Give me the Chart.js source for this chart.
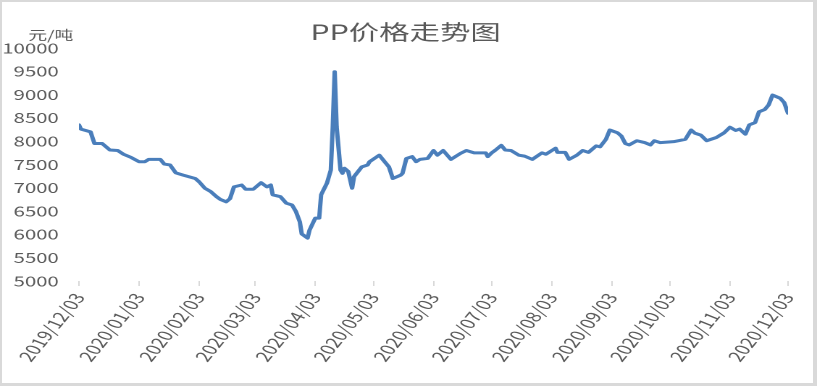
<!DOCTYPE html>
<html>
<head>
<meta charset="utf-8">
<title>PP价格走势图</title>
<script src="https://cdn.jsdelivr.net/npm/chart.js@4/dist/chart.umd.min.js"></script>
<style>
  html, body { margin: 0; padding: 0; background: #fff; }
  #wrap { position: relative; width: 817px; height: 386px; overflow: hidden; background: #fff; }
  #c { position: absolute; left: 0; top: 0; transform-origin: 0 0; }
  #frame {
    position: absolute; left: 0; top: 0; width: 817px; height: 386px;
    box-sizing: border-box; pointer-events: none;
    border-style: solid; border-color: #d9d9d9;
    border-width: 2px 4px 3px 2px;
  }
</style>
</head>
<body>
<div id="wrap">
  <canvas id="c" width="564" height="386"></canvas>
  <div id="frame"></div>
</div>
<script>
// 数据：日期与价格（元/吨）
const dates = [
  '2019/12/03', '2019/12/04', '2019/12/09', '2019/12/11', '2019/12/15', '2019/12/19',
  '2019/12/23', '2019/12/26', '2019/12/30', '2020/01/03', '2020/01/06', '2020/01/08',
  '2020/01/14', '2020/01/16', '2020/01/19', '2020/01/22', '2020/01/26', '2020/02/01',
  '2020/02/03', '2020/02/06', '2020/02/09', '2020/02/12', '2020/02/14', '2020/02/17',
  '2020/02/19', '2020/02/21', '2020/02/25', '2020/02/27', '2020/03/02', '2020/03/06',
  '2020/03/09', '2020/03/11', '2020/03/12', '2020/03/16', '2020/03/19', '2020/03/22',
  '2020/03/24', '2020/03/26', '2020/03/27', '2020/03/30', '2020/03/31', '2020/04/03',
  '2020/04/05', '2020/04/06', '2020/04/09', '2020/04/11', '2020/04/12', '2020/04/13',
  '2020/04/14', '2020/04/16', '2020/04/17', '2020/04/18', '2020/04/20', '2020/04/22',
  '2020/04/23', '2020/04/27', '2020/04/30', '2020/05/01', '2020/05/06', '2020/05/08',
  '2020/05/11', '2020/05/13', '2020/05/17', '2020/05/18', '2020/05/20', '2020/05/23',
  '2020/05/25', '2020/05/27', '2020/05/31', '2020/06/03', '2020/06/05', '2020/06/08',
  '2020/06/12', '2020/06/17', '2020/06/20', '2020/06/24', '2020/06/30', '2020/07/01',
  '2020/07/03', '2020/07/05', '2020/07/08', '2020/07/10', '2020/07/13', '2020/07/17',
  '2020/07/20', '2020/07/24', '2020/07/29', '2020/07/31', '2020/08/05', '2020/08/06',
  '2020/08/10', '2020/08/12', '2020/08/16', '2020/08/19', '2020/08/22', '2020/08/26',
  '2020/08/28', '2020/08/31', '2020/09/02', '2020/09/06', '2020/09/08', '2020/09/10',
  '2020/09/12', '2020/09/16', '2020/09/20', '2020/09/23', '2020/09/25', '2020/09/28',
  '2020/10/05', '2020/10/11', '2020/10/14', '2020/10/16', '2020/10/19', '2020/10/22',
  '2020/10/27', '2020/10/31', '2020/11/03', '2020/11/06', '2020/11/08', '2020/11/11',
  '2020/11/13', '2020/11/16', '2020/11/18', '2020/11/21', '2020/11/23', '2020/11/25',
  '2020/11/29', '2020/12/01', '2020/12/03'
];

const prices = [
  8350, 8260, 8200, 7950, 7950, 7810,
  7800, 7720, 7650, 7560, 7560, 7610,
  7610, 7510, 7490, 7320, 7270, 7200,
  7130, 6990, 6920, 6810, 6750, 6700,
  6770, 7020, 7060, 6970, 6970, 7110,
  7020, 7060, 6850, 6810, 6670, 6630,
  6490, 6270, 6010, 5920, 6090, 6350,
  6350, 6850, 7100, 7380, 8310, 9490,
  8310, 7380, 7310, 7420, 7350, 6990,
  7240, 7450, 7490, 7560, 7700, 7600,
  7450, 7200, 7270, 7310, 7630, 7670,
  7560, 7610, 7630, 7800, 7700, 7800,
  7610, 7740, 7800, 7750, 7750, 7670,
  7750, 7810, 7910, 7810, 7800, 7700,
  7680, 7610, 7750, 7720, 7850, 7760,
  7760, 7610, 7700, 7800, 7760, 7900,
  7880, 8040, 8240, 8180, 8110, 7950,
  7920, 8010, 7970, 7920, 8010, 7970,
  7990, 8040, 8240, 8170, 8130, 8010,
  8080, 8180, 8300, 8230, 8260, 8150,
  8350, 8400, 8630, 8680, 8780, 8990,
  8920, 8830, 8600
];

// 横轴刻度标签（每月3日）
const tickLabels = [
  '2019/12/03', '2020/01/03', '2020/02/03', '2020/03/03', '2020/04/03', '2020/05/03',
  '2020/06/03', '2020/07/03', '2020/08/03', '2020/09/03', '2020/10/03', '2020/11/03',
  '2020/12/03'
];

// 纵轴范围
const yMin = 5000;
const yMax = 10000;
const yStep = 500;

const chartTitle = 'PP价格走势图';
const unitText = '元/吨';

// 原图整体被横向拉伸，这里先按窄画布绘制再横向放大
const OUT_W = 817;
const BASE_W = 564;
const STRETCH = OUT_W / BASE_W;

const FONT = '"Noto Sans CJK SC", "Noto Sans", sans-serif';
const TEXT_COLOR = '#595959';

function dayIndex(s) {
  const [y, m, d] = s.split('/').map(Number);
  const [y0, m0, d0] = dates[0].split('/').map(Number);
  return Math.round((Date.UTC(y, m - 1, d) - Date.UTC(y0, m0 - 1, d0)) / 86400000);
}

const points = dates.map((d, i) => ({ x: dayIndex(d), y: prices[i] }));
const tickDays = tickLabels.map(dayIndex);

// 标题与左上角单位文字
const headerText = {
  id: 'headerText',
  afterDraw(chart) {
    const ctx = chart.ctx;
    ctx.save();
    ctx.fillStyle = TEXT_COLOR;
    ctx.textBaseline = 'middle';

    ctx.font = '21px ' + FONT;
    ctx.textAlign = 'center';
    ctx.fillText(chartTitle, 280, 32);

    ctx.font = '13px ' + FONT;
    ctx.textAlign = 'left';
    ctx.fillText(unitText, 19.5, 35);
    ctx.restore();
  }
};

const canvas = document.getElementById('c');
canvas.style.transform = 'scaleX(' + STRETCH + ')';

new Chart(canvas, {
  type: 'line',
  data: {
    datasets: [{
      label: 'PP价格',
      data: points,
      borderColor: '#4a7ebb',
      borderWidth: 3,
      borderJoinStyle: 'round',
      borderCapStyle: 'round',
      pointRadius: 0,
      tension: 0,
      fill: false
    }]
  },
  options: {
    responsive: false,
    devicePixelRatio: 2,
    animation: false,
    layout: { padding: { left: 0, right: 20, top: 48, bottom: 0 } },
    plugins: {
      legend: { display: false },
      tooltip: { enabled: false },
      title: { display: false }
    },
    scales: {
      x: {
        type: 'linear',
        min: 0,
        max: tickDays[tickDays.length - 1],
        afterBuildTicks(scale) {
          scale.ticks = tickDays.map(v => ({ value: v }));
        },
        afterFit(scale) {
          scale.height = 105;
        },
        grid: {
          display: true,
          drawOnChartArea: false,
          drawTicks: true,
          tickLength: 5,
          color: '#d9d9d9'
        },
        border: { display: false },
        ticks: {
          autoSkip: false,
          minRotation: 60,
          maxRotation: 60,
          padding: 4,
          color: TEXT_COLOR,
          font: { family: FONT, size: 14.5 },
          callback: (value, index) => tickLabels[index]
        }
      },
      y: {
        min: yMin,
        max: yMax,
        afterFit(scale) {
          scale.width = 54.5;
        },
        grid: { display: false, drawTicks: false },
        border: { display: false },
        ticks: {
          stepSize: yStep,
          padding: 14,
          color: TEXT_COLOR,
          font: { family: FONT, size: 14 },
          callback: value => String(value)
        }
      }
    }
  },
  plugins: [headerText]
});
</script>
</body>
</html>
